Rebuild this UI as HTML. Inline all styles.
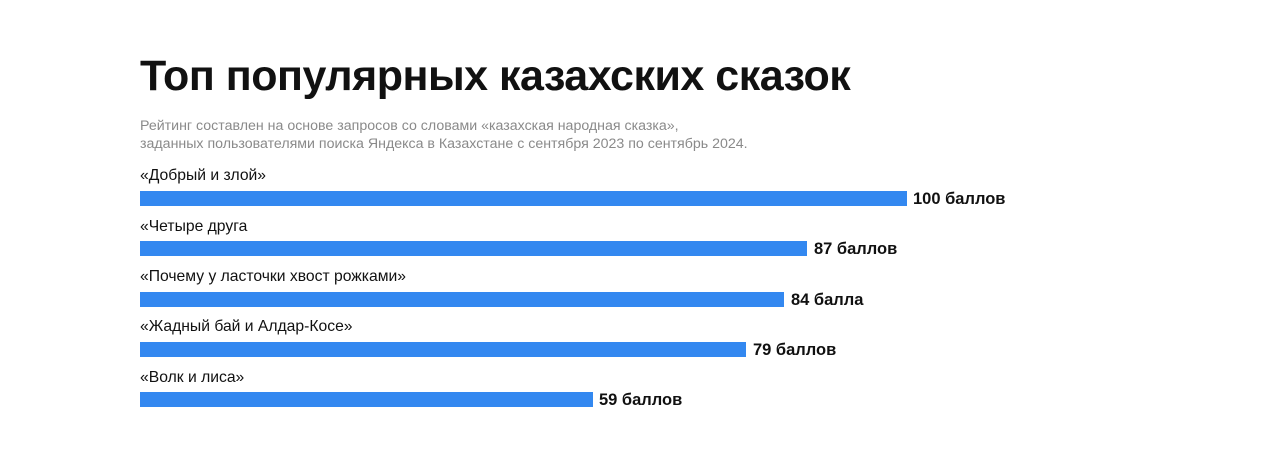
<!DOCTYPE html>
<html><head><meta charset="utf-8"><style>
body{margin:0;width:1280px;height:467px;background:#fff;font-family:"Liberation Sans",sans-serif;position:relative;overflow:hidden}
.t{position:absolute;left:140px;top:52px;font-size:43px;font-weight:bold;color:#111;letter-spacing:-0.5px;white-space:nowrap}
.s{position:absolute;left:140px;top:117px;font-size:14.2px;line-height:18px;color:#8a8a8a;white-space:nowrap}
.l{position:absolute;left:140px;font-size:15.7px;color:#111;white-space:nowrap;line-height:18px}
.b{position:absolute;left:140px;height:15px;background:#3388f0}
.v{position:absolute;font-size:16.5px;font-weight:bold;color:#111;white-space:nowrap;line-height:18px}
</style></head><body>
<div class="t">Топ популярных казахских сказок</div>
<div class="s">Рейтинг составлен на основе запросов со словами «казахская народная сказка»,<br>заданных пользователями поиска Яндекса в Казахстане с сентября 2023 по сентябрь 2024.</div>
<div class="l" style="top:167px">«Добрый и злой»</div>
<div class="b" style="top:191px;width:767px"></div>
<div class="v" style="top:190px;left:913px">100 баллов</div>
<div class="l" style="top:218px">«Четыре друга</div>
<div class="b" style="top:241px;width:667px"></div>
<div class="v" style="top:240px;left:814px">87 баллов</div>
<div class="l" style="top:268px">«Почему у ласточки хвост рожками»</div>
<div class="b" style="top:292px;width:644px"></div>
<div class="v" style="top:291px;left:791px">84 балла</div>
<div class="l" style="top:318px">«Жадный бай и Алдар-Косе»</div>
<div class="b" style="top:342px;width:606px"></div>
<div class="v" style="top:341px;left:753px">79 баллов</div>
<div class="l" style="top:369px">«Волк и лиса»</div>
<div class="b" style="top:392px;width:453px"></div>
<div class="v" style="top:391px;left:599px">59 баллов</div>
</body></html>
